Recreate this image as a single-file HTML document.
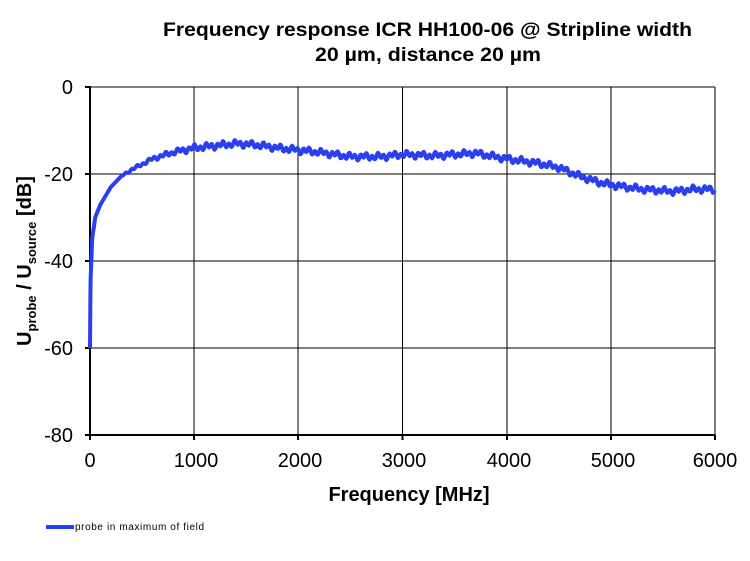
<!DOCTYPE html>
<html><head><meta charset="utf-8"><style>
body{margin:0;background:#fff;}
svg{display:block;font-family:"Liberation Sans",Arial,sans-serif;}
</style></head><body>
<svg id="s" width="750" height="561" viewBox="0 0 750 561" xmlns="http://www.w3.org/2000/svg">
<text x="163" y="36" font-size="19" font-weight="bold" textLength="529" lengthAdjust="spacingAndGlyphs">Frequency response ICR HH100-06 @ Stripline  width</text>
<text x="315" y="61" font-size="19" font-weight="bold" textLength="226" lengthAdjust="spacingAndGlyphs">20 µm, distance 20 µm</text>
<g stroke="#000" stroke-width="1">
<line x1="90" y1="87" x2="715" y2="87"/><line x1="90" y1="174" x2="715" y2="174"/>
<line x1="90" y1="261" x2="715" y2="261"/><line x1="90" y1="348" x2="715" y2="348"/>
<line x1="194" y1="87" x2="194" y2="435"/><line x1="298" y1="87" x2="298" y2="435"/>
<line x1="402.5" y1="87" x2="402.5" y2="435"/><line x1="507" y1="87" x2="507" y2="435"/>
<line x1="611" y1="87" x2="611" y2="435"/><line x1="715" y1="87" x2="715" y2="435"/>
</g>
<g stroke="#000" stroke-width="2">
<line x1="90" y1="86" x2="90" y2="436"/><line x1="89" y1="435" x2="715" y2="435"/>
<line x1="85" y1="87" x2="90" y2="87"/><line x1="85" y1="174" x2="90" y2="174"/><line x1="85" y1="261" x2="90" y2="261"/><line x1="85" y1="348" x2="90" y2="348"/><line x1="85" y1="435" x2="90" y2="435"/>
<line x1="90" y1="435" x2="90" y2="440"/><line x1="194" y1="435" x2="194" y2="440"/><line x1="298" y1="435" x2="298" y2="440"/><line x1="402.5" y1="435" x2="402.5" y2="440"/><line x1="507" y1="435" x2="507" y2="440"/><line x1="611" y1="435" x2="611" y2="440"/><line x1="715" y1="435" x2="715" y2="440"/>
</g>
<g font-size="20" text-anchor="end">
<text x="73" y="94">0</text><text x="73" y="181">-20</text><text x="73" y="268">-40</text><text x="73" y="355">-60</text><text x="73" y="442">-80</text>
</g>
<g font-size="20" text-anchor="middle">
<text x="90" y="467">0</text><text x="196" y="467">1000</text><text x="300" y="467">2000</text><text x="404" y="467">3000</text><text x="509" y="467">4000</text><text x="613" y="467">5000</text><text x="715" y="467">6000</text>
</g>
<text x="409" y="501" font-size="20" font-weight="bold" text-anchor="middle">Frequency [MHz]</text>
<text transform="translate(31,261) rotate(-90)" font-size="20" font-weight="bold" text-anchor="middle">U<tspan font-size="13" dy="5">probe</tspan><tspan dy="-5"> / U</tspan><tspan font-size="13" dy="5">source</tspan><tspan dy="-5"> [dB]</tspan></text>
<polyline id="c" fill="none" stroke="#2a3ff0" stroke-width="4" stroke-linejoin="round" points=""/>
<line x1="46" y1="527" x2="74" y2="527" stroke="#2a3ff0" stroke-width="4"/>
<text x="75" y="530" font-size="10" textLength="129" lengthAdjust="spacing">probe in maximum of field</text>
</svg>
<script>
var k=[[0,-60],[5,-45],[20,-35],[50,-30],[100,-27],[200,-23],[300,-20.5],[400,-19],[600,-16.5],[800,-15],[1000,-14],[1200,-13.5],[1400,-13],[1600,-13.3],[1800,-14],[2000,-14.5],[2200,-15],[2500,-16],[2800,-16],[3000,-15.5],[3300,-15.8],[3500,-15.5],[3700,-15.2],[4000,-16.5],[4300,-17.5],[4500,-18.5],[4700,-20.5],[4900,-22],[5000,-22.5],[5300,-23.5],[5600,-24],[5800,-23.5],[6000,-23.5]];
function f(x){for(var i=1;i<k.length;i++){if(x<=k[i][0]){var a=k[i-1],b=k[i];return a[1]+(b[1]-a[1])*(x-a[0])/(b[0]-a[0]);}}return k[k.length-1][1];}
var p=[];for(var x=0;x<=6000;x+=(x<100?2:8)){var y=f(x);if(x>300)y+=(0.55*Math.sin(x/55*2*Math.PI)+0.35*Math.sin(x/137*2*Math.PI))*Math.min(1,x/1000);p.push((90+x*625/6000).toFixed(1)+","+(87-y*4.35).toFixed(1));}
document.getElementById("c").setAttribute("points",p.join(" "));
</script>
</body></html>
